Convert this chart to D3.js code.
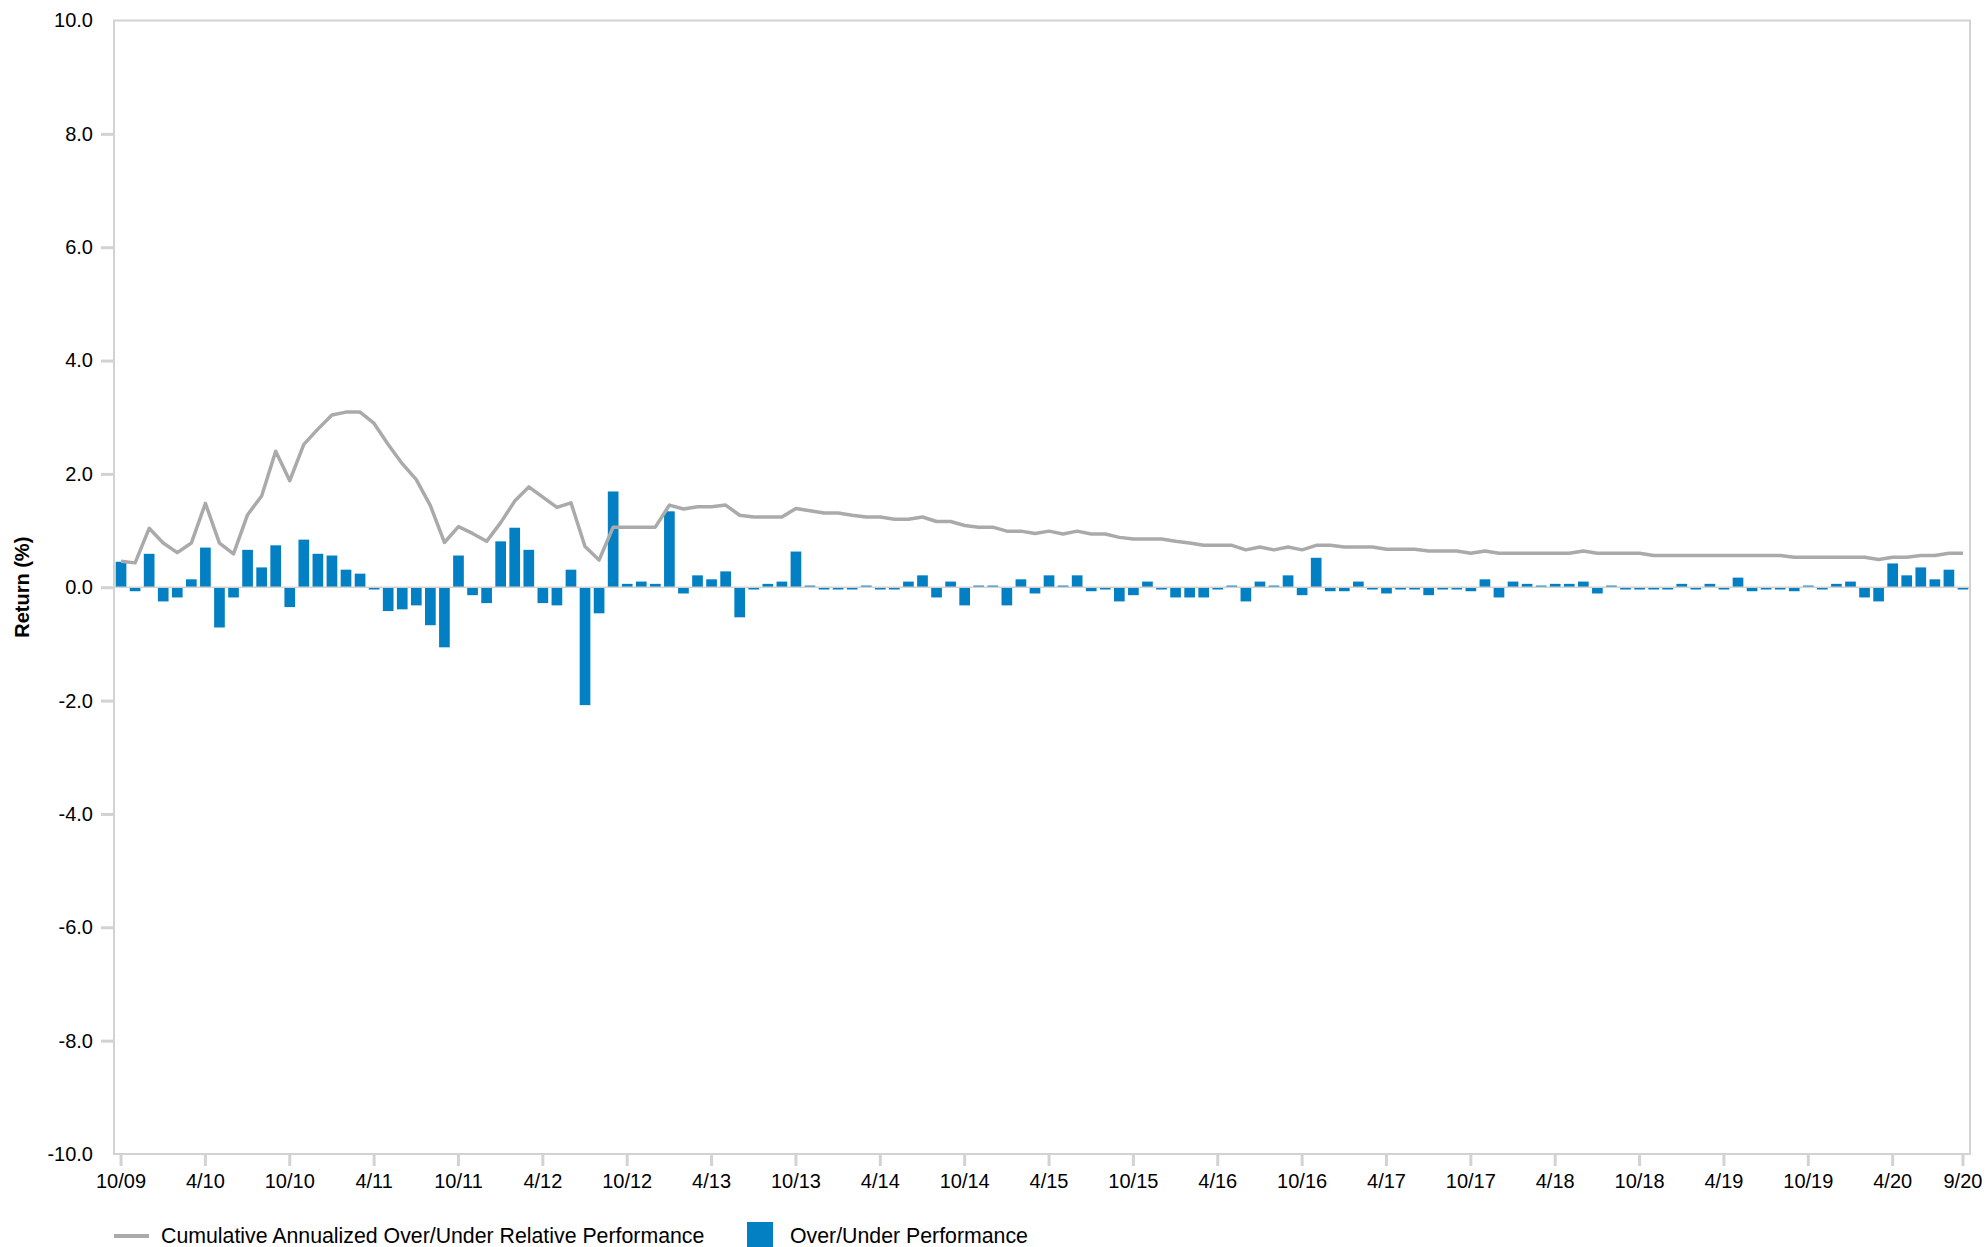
<!DOCTYPE html>
<html><head><meta charset="utf-8">
<script src="https://cdn.jsdelivr.net/npm/d3@7"></script>
<style>
body{margin:0;background:#fff}
text{font-family:"Liberation Sans",Arial,Helvetica,sans-serif}
</style>
</head><body>
<svg id="c" width="1986" height="1247"></svg>
<script>
// Monthly over/under performance (%), 10/09 .. 9/20
const overUnder = [
 0.45,-0.07,0.59,-0.25,-0.18,0.14,0.70,-0.71,-0.18,0.66,
 0.35,0.74,-0.35,0.84,0.59,0.56,0.31,0.24,-0.04,-0.42,
 -0.39,-0.32,-0.67,-1.06,0.56,-0.14,-0.28,0.81,1.05,0.66,
 -0.28,-0.32,0.31,-2.08,-0.46,1.69,0.06,0.10,0.06,1.34,
 -0.11,0.21,0.14,0.28,-0.53,-0.04,0.06,0.10,0.63,0.03,
 -0.04,-0.04,-0.04,0.03,-0.04,-0.04,0.10,0.21,-0.18,0.10,
 -0.32,0.03,0.03,-0.32,0.14,-0.11,0.21,0.03,0.21,-0.07,
 -0.04,-0.25,-0.14,0.10,-0.04,-0.18,-0.18,-0.18,-0.04,0.03,
 -0.25,0.10,0.03,0.21,-0.14,0.52,-0.07,-0.07,0.10,-0.04,
 -0.11,-0.04,-0.04,-0.14,-0.04,-0.04,-0.07,0.14,-0.18,0.10,
 0.06,0.03,0.06,0.06,0.10,-0.11,0.03,-0.04,-0.04,-0.04,
 -0.04,0.06,-0.04,0.06,-0.04,0.17,-0.07,-0.04,-0.04,-0.07,
 0.03,-0.04,0.06,0.10,-0.18,-0.25,0.42,0.21,0.35,0.14,
 0.31,-0.04
];
// Cumulative annualized over/under relative performance (%)
const cumulative = [
 0.46,0.43,1.04,0.78,0.61,0.78,1.48,0.78,0.59,1.28,
 1.61,2.40,1.88,2.52,2.79,3.04,3.09,3.09,2.89,2.52,
 2.18,1.90,1.44,0.79,1.07,0.95,0.81,1.14,1.52,1.77,
 1.59,1.41,1.49,0.72,0.48,1.06,1.06,1.06,1.06,1.45,
 1.38,1.42,1.42,1.45,1.27,1.24,1.24,1.24,1.39,1.35,
 1.31,1.31,1.27,1.24,1.24,1.20,1.20,1.24,1.16,1.16,
 1.09,1.06,1.06,0.99,0.99,0.95,0.99,0.94,0.99,0.94,
 0.94,0.88,0.85,0.85,0.85,0.81,0.78,0.74,0.74,0.74,
 0.66,0.71,0.66,0.71,0.66,0.74,0.74,0.71,0.71,0.71,
 0.67,0.67,0.67,0.64,0.64,0.64,0.60,0.64,0.60,0.60,
 0.60,0.60,0.60,0.60,0.64,0.60,0.60,0.60,0.60,0.56,
 0.56,0.56,0.56,0.56,0.56,0.56,0.56,0.56,0.56,0.53,
 0.53,0.53,0.53,0.53,0.53,0.49,0.53,0.53,0.56,0.56,
 0.60,0.60
];
const yTicks = [-10,-8,-6,-4,-2,0,2,4,6,8,10];
const xTickLabels = ["10/09","4/10","10/10","4/11","10/11","4/12","10/12","4/13","10/13","4/14","10/14","4/15","10/15","4/16","10/16","4/17","10/17","4/18","10/18","4/19","10/19","4/20","9/20"];
const seriesNames = ["Cumulative Annualized Over/Under Relative Performance","Over/Under Performance"];
const yTitle = "Return (%)";

// month categories 10/09 .. 9/20
const months = [];
for (let k = 0; k < overUnder.length; k++) {
  const mm = (9 + k) % 12 + 1;
  const yy = 2009 + Math.floor((9 + k) / 12);
  months.push(mm + "/" + String(yy % 100).padStart(2, "0"));
}

const barColor = "#0380c3", lineColor = "#aaaaaa", gridColor = "#d2d2d2";
const L = 114, R = 1970, T = 20.5, B = 1154;

const svg = d3.select("#c");
const x = d3.scaleBand().domain(months).range([L, R]).paddingInner(0.24).paddingOuter(0.12);
const y = d3.scaleLinear().domain([-10, 10]).range([B, T]);

// frame
svg.append("rect").attr("x", L).attr("y", T).attr("width", R - L).attr("height", B - T)
  .attr("fill", "none").attr("stroke", gridColor).attr("stroke-width", 2);

// y axis
const ya = svg.append("g").attr("transform", `translate(${L},0)`)
  .call(d3.axisLeft(y).tickValues(yTicks).tickFormat(d => d.toFixed(1)).tickSize(13).tickPadding(8));
ya.select(".domain").remove();
ya.selectAll(".tick line").attr("stroke", gridColor).attr("stroke-width", 3)
  .filter(d => Math.abs(d) === 10).remove();
ya.selectAll(".tick text").attr("font-size", 20).attr("fill", "#000")
  .style("font-family", '"Liberation Sans",Arial,sans-serif');

// x axis
const xa = svg.append("g").attr("transform", `translate(0,${B})`)
  .call(d3.axisBottom(x).tickValues(months.filter(m => xTickLabels.includes(m))).tickSize(12).tickPadding(8));
xa.select(".domain").remove();
xa.selectAll(".tick line").attr("stroke", gridColor).attr("stroke-width", 3);
xa.selectAll(".tick text").attr("font-size", 20).attr("fill", "#000")
  .style("font-family", '"Liberation Sans",Arial,sans-serif');

// bars
svg.append("g").selectAll("rect").data(overUnder).join("rect")
  .attr("x", (d, i) => x(months[i]))
  .attr("width", x.bandwidth())
  .attr("y", d => y(Math.max(0, d)))
  .attr("height", d => Math.abs(y(d) - y(0)))
  .attr("fill", barColor);

// zero line
svg.append("line").attr("x1", L).attr("x2", R).attr("y1", y(0)).attr("y2", y(0))
  .attr("stroke", gridColor).attr("stroke-width", 1.5);

// cumulative line
const line = d3.line().x((d, i) => x(months[i]) + x.bandwidth() / 2).y(d => y(d));
svg.append("path").datum(cumulative).attr("d", line)
  .attr("fill", "none").attr("stroke", lineColor).attr("stroke-width", 3.5)
  .attr("stroke-linejoin", "round");

// y title
svg.append("text").attr("transform", `translate(29,${(T + B) / 2}) rotate(-90)`)
  .attr("text-anchor", "middle").attr("font-size", 20).attr("font-weight", "bold")
  .attr("fill", "#000").text(yTitle);

// legend
const lg = svg.append("g");
lg.append("line").attr("x1", 114).attr("x2", 149).attr("y1", 1236).attr("y2", 1236)
  .attr("stroke", lineColor).attr("stroke-width", 4);
lg.append("text").attr("x", 161).attr("y", 1242.5).attr("font-size", 21.3).attr("fill", "#000").text(seriesNames[0]);
lg.append("rect").attr("x", 747).attr("y", 1222).attr("width", 26).attr("height", 25).attr("fill", barColor);
lg.append("text").attr("x", 790).attr("y", 1242.5).attr("font-size", 21.3).attr("fill", "#000").text(seriesNames[1]);
</script>
</body></html>
